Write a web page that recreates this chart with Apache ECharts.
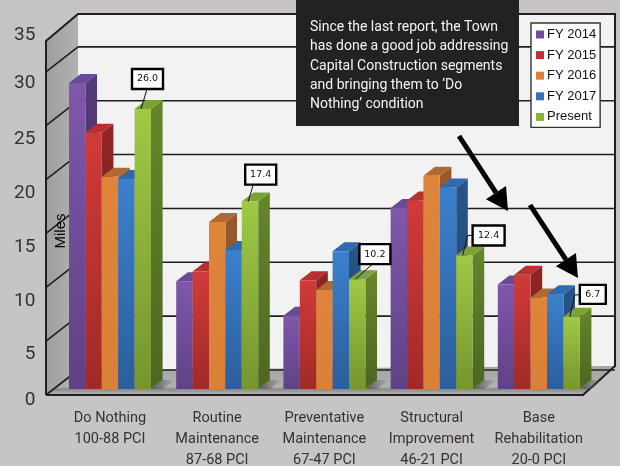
<!DOCTYPE html>
<html>
<head>
<meta charset="utf-8">
<style>html,body{margin:0;padding:0;background:#c6c4c5}#chart{width:620px;height:466px}</style>
<script src="https://cdn.jsdelivr.net/npm/echarts@6/dist/echarts.min.js"></script>
</head>
<body>
<div id="chart"></div>
<script>
// Pavement condition mileage by treatment category
const categories = [
  'Do Nothing\n100-88 PCI',
  'Routine\nMaintenance\n87-68 PCI',
  'Preventative\nMaintenance\n67-47 PCI',
  'Structural\nImprovement\n46-21 PCI',
  'Base\nRehabilitation\n20-0 PCI'
];
const fy2014 = [28.4, 10.0, 6.8, 16.8, 9.7];
const fy2015 = [23.8, 10.9, 10.1, 17.5, 10.6];
const fy2016 = [19.7, 15.5, 9.2, 19.8, 8.5];
const fy2017 = [19.5, 12.9, 12.8, 18.7, 8.8];
const present = [26.0, 17.4, 10.2, 12.4, 6.7];
const seriesNames = ['FY 2014', 'FY 2015', 'FY 2016', 'FY 2017', 'Present'];
const yTicks = [0, 5, 10, 15, 20, 25, 30];
const noteLines = [
  'Since the last report, the Town',
  'has done a good job addressing',
  'Capital Construction segments',
  'and bringing them to ‘Do',
  'Nothing’ condition'
];

const seriesValues = [fy2014, fy2015, fy2016, fy2017, present];
const palette = [
  { top: '#6a4a94', frontA: '#7f57ab', frontB: '#5f4285', sideA: '#553a78', sideB: '#43305e', key: '#6f4c9c' },
  { top: '#b5302e', frontA: '#d03b39', frontB: '#a02a28', sideA: '#8f2624', sideB: '#74201f', key: '#c0302e' },
  { top: '#ae6a30', frontA: '#de853b', frontB: '#da8038', sideA: '#985a2a', sideB: '#8a5226', key: '#dd803a' },
  { top: '#2f69ae', frontA: '#3c80cd', frontB: '#2b5e9b', sideA: '#27558a', sideB: '#1e4470', key: '#3474b8' },
  { top: '#7ba235', frontA: '#9fc945', frontB: '#76952f', sideA: '#66862c', sideB: '#4d6621', key: '#8ab135' }
];

const BAR_W = 16.4;
const DEPTH_X = 11.6;
const DEPTH_Y = -9;
const BACK_DY = -19;
const FRONT_DY = 6;
const LEFT_FRONT_X = 46;
const LEFT_BACK_X = 78;
const RIGHT_BACK_X = 615;
const RIGHT_FRONT_X = 583;
const INK = '#1f1f1f';
const LABEL_FONT = 'Roboto, sans-serif';

// Callout box placement relative to the top of each Present bar
const callouts = [
  { dx: -19, dy: -40, w: 31, h: 20, from: [15, 20] },
  { dx: -13, dy: -37, w: 31, h: 20, from: [8, 20] },
  { dx: -6, dy: -35, w: 31, h: 20, from: [13, 20] },
  { dx: 0, dy: -30, w: 32, h: 20, from: [0, 10], elbow: -5 },
  { dx: 0, dy: -32, w: 26, h: 19, from: [0, 10], elbow: -5 }
];

function vGrad(a, b) {
  return { type: 'linear', x: 0, y: 0, x2: 0, y2: 1, colorStops: [{ offset: 0, color: a }, { offset: 1, color: b }] };
}

function renderGridLine(params, api) {
  const y = api.coord([0, api.value(0)])[1];
  return {
    type: 'group',
    children: [
      { type: 'line', shape: { x1: LEFT_BACK_X, y1: y + BACK_DY, x2: RIGHT_BACK_X, y2: y + BACK_DY }, style: { stroke: INK, lineWidth: 1.6 } },
      { type: 'line', shape: { x1: LEFT_FRONT_X, y1: y + FRONT_DY, x2: LEFT_BACK_X, y2: y + BACK_DY }, style: { stroke: INK, lineWidth: 1.6 } }
    ]
  };
}

function renderBar(params, api) {
  const s = params.seriesIndex - 1;
  const c = palette[s];
  const p = api.coord([api.value(0), api.value(1)]);
  const base = api.coord([api.value(0), 0])[1];
  const x0 = p[0] + (s - 2.5) * BAR_W;
  const x1 = x0 + BAR_W;
  const yTop = p[1];
  const parts = [
    { type: 'polygon', shape: { points: [[x1, yTop], [x1 + DEPTH_X, yTop + DEPTH_Y], [x1 + DEPTH_X, base + DEPTH_Y], [x1, base]] }, style: { fill: vGrad(c.sideA, c.sideB) } },
    { type: 'polygon', shape: { points: [[x0, yTop], [x0 + DEPTH_X, yTop + DEPTH_Y], [x1 + DEPTH_X, yTop + DEPTH_Y], [x1, yTop]] }, style: { fill: c.top } },
    { type: 'rect', shape: { x: x0, y: yTop, width: BAR_W, height: base - yTop }, style: { fill: vGrad(c.frontA, c.frontB) } }
  ];
  if (s === 4) {
    // soft shadow cast onto the floor beside the group
    parts.unshift({
      type: 'polygon',
      shape: { points: [[x1, base], [x1 + DEPTH_X, base + DEPTH_Y], [x1 + DEPTH_X + 12, base + DEPTH_Y], [x1 + 12, base]] },
      style: { fill: { type: 'linear', x: 0, y: 0, x2: 1, y2: 0, colorStops: [{ offset: 0.2, color: 'rgba(90,90,90,0.8)' }, { offset: 1, color: 'rgba(90,90,90,0)' }] } }
    });
  }
  return { type: 'group', children: parts };
}

function renderCallout(params, api) {
  const i = params.dataIndex;
  const layout = callouts[i];
  const p = api.coord([api.value(0), api.value(1)]);
  const x1 = p[0] + 2.5 * BAR_W;
  const tipX = x1 - 10;
  const tipY = p[1];
  const bx = x1 + layout.dx;
  const by = p[1] + layout.dy;
  const startX = bx + layout.from[0];
  const startY = by + layout.from[1];
  const pts = layout.elbow ? [[startX, startY], [startX + layout.elbow, startY], [tipX, tipY]] : [[startX, startY], [tipX, tipY]];
  return {
    type: 'group',
    children: [
      { type: 'polyline', shape: { points: pts }, style: { stroke: '#111', lineWidth: 1, fill: null } },
      { type: 'rect', shape: { x: bx, y: by, width: layout.w, height: layout.h }, style: { fill: '#fff', stroke: '#000', lineWidth: 2.4 } },
      { type: 'text', style: { x: bx + layout.w / 2, y: by + layout.h / 2, text: api.value(1).toFixed(1), align: 'center', verticalAlign: 'middle', font: '9.5px "DejaVu Sans"', fill: '#111' } }
    ]
  };
}

function arrow(x1, y1, x2, y2) {
  const a = Math.atan2(y2 - y1, x2 - x1);
  const len = 22, half = 12;
  const bx = x2 - len * Math.cos(a), by = y2 - len * Math.sin(a);
  const nx = -Math.sin(a) * half, ny = Math.cos(a) * half;
  return [
    { type: 'line', z: 30, shape: { x1, y1, x2: bx, y2: by }, style: { stroke: '#000', lineWidth: 5 } },
    { type: 'polygon', z: 30, shape: { points: [[x2, y2], [bx + nx, by + ny], [bx - nx, by - ny]] }, style: { fill: '#000' } }
  ];
}

const yLabelShift = { 0: 11.5, 5: 19.5, 10: 19.5, 15: 19.5, 20: 19.5, 25: 19.5, 30: 17, 35: 23.5 };
const yRich = {};
Object.keys(yLabelShift).forEach(function (k) {
  yRich['t' + k] = { padding: [yLabelShift[k] * 2, 0, 0, 0], fontSize: 19, fontFamily: LABEL_FONT, color: '#333' };
});

const chart = echarts.init(document.getElementById('chart'), null, { renderer: 'canvas' });
chart.setOption({
  animation: false,
  backgroundColor: '#c6c4c5',
  grid: { left: 56.4, width: 536, top: 12, height: 377, containLabel: false, outerBoundsMode: 'none' },
  xAxis: {
    type: 'category',
    data: categories,
    axisLine: { show: false },
    axisTick: { show: false },
    axisLabel: { margin: 19, fontFamily: LABEL_FONT, fontSize: 14.5, lineHeight: 21, color: '#333', interval: 0, verticalAlign: 'top' }
  },
  yAxis: {
    type: 'value',
    min: 0,
    max: 35,
    interval: 5,
    axisLine: { show: false },
    axisTick: { show: false },
    splitLine: { show: false },
    axisLabel: { margin: 21, formatter: function (v) { return '{t' + v + '|' + v + '}'; }, rich: yRich }
  },
  legend: {
    data: seriesNames,
    orient: 'vertical',
    left: 531,
    top: 23,
    padding: [5, 4, 4, 5],
    itemWidth: 8,
    itemHeight: 8,
    itemGap: 7.6,
    icon: 'rect',
    selectedMode: false,
    backgroundColor: '#ffffff',
    borderColor: '#333',
    borderWidth: 1.4,
    z: 20,
    textStyle: { fontFamily: '"Liberation Sans"', fontSize: 13, color: '#111', padding: [0, 0, 0, -2] }
  },
  graphic: {
    elements: [
      // back wall, side wall and floor of the chart box
      { type: 'rect', z: 0, shape: { x: LEFT_BACK_X, y: 14, width: RIGHT_BACK_X - LEFT_BACK_X, height: 356 }, style: { fill: '#f2f2f2' } },
      { type: 'polygon', z: 0, shape: { points: [[LEFT_FRONT_X, 41], [LEFT_BACK_X, 14], [LEFT_BACK_X, 370], [LEFT_FRONT_X, 395]] }, style: { fill: { type: 'linear', x: 0, y: 0, x2: 1, y2: 0, colorStops: [{ offset: 0, color: '#9e9e9e' }, { offset: 1, color: '#b2b2b2' }] } } },
      { type: 'polygon', z: 0, shape: { points: [[LEFT_FRONT_X, 395], [LEFT_BACK_X, 370], [RIGHT_BACK_X, 366], [RIGHT_FRONT_X, 395]] }, style: { fill: { type: 'linear', x: 0, y: 0, x2: 0, y2: 1, colorStops: [{ offset: 0, color: '#a4a4a4' }, { offset: 0.72, color: '#b0b0b0' }, { offset: 0.8, color: '#8a8a8a' }, { offset: 1, color: '#b8b8b8' }] } } },
      { type: 'polyline', z: 1, shape: { points: [[LEFT_FRONT_X, 395], [LEFT_FRONT_X, 41], [LEFT_BACK_X, 14], [RIGHT_BACK_X, 14], [RIGHT_BACK_X, 366], [RIGHT_FRONT_X, 395], [LEFT_FRONT_X, 395]] }, style: { fill: null, stroke: INK, lineWidth: 2 } },
      // axis title on the side wall
      { type: 'text', z: 5, x: 61, y: 231, rotation: Math.PI / 2, style: { text: 'Miles', font: '15px "Liberation Sans"', fill: '#000', align: 'center', verticalAlign: 'middle' } },
      // commentary panel and its arrows
      { type: 'rect', z: 25, shape: { x: 296, y: 0, width: 223, height: 126 }, style: { fill: '#222222' } },
      { type: 'text', z: 26, x: 310, y: 18, style: { text: noteLines.join('\n'), font: '14px ' + LABEL_FONT, lineHeight: 19.2, fill: '#f4f4f4' } }
    ].concat(arrow(459, 136, 508, 211), arrow(530, 205, 578, 278))
  },
  series: [
    {
      name: 'gridlines',
      type: 'custom',
      coordinateSystem: 'cartesian2d',
      z: 2,
      clip: false,
      silent: true,
      encode: { y: 0 },
      data: yTicks.map(function (v) { return [v]; }),
      renderItem: renderGridLine
    }
  ].concat(seriesNames.map(function (name, s) {
    return {
      name: name,
      type: 'custom',
      coordinateSystem: 'cartesian2d',
      z: 3,
      clip: false,
      itemStyle: { color: palette[s].key },
      encode: { x: 0, y: 1 },
      data: seriesValues[s].map(function (v, i) { return [i, v]; }),
      renderItem: renderBar
    };
  }), [
    {
      name: 'callouts',
      type: 'custom',
      coordinateSystem: 'cartesian2d',
      z: 4,
      clip: false,
      silent: true,
      encode: { x: 0, y: 1 },
      data: present.map(function (v, i) { return [i, v]; }),
      renderItem: renderCallout
    }
  ])
});
</script>
</body>
</html>
